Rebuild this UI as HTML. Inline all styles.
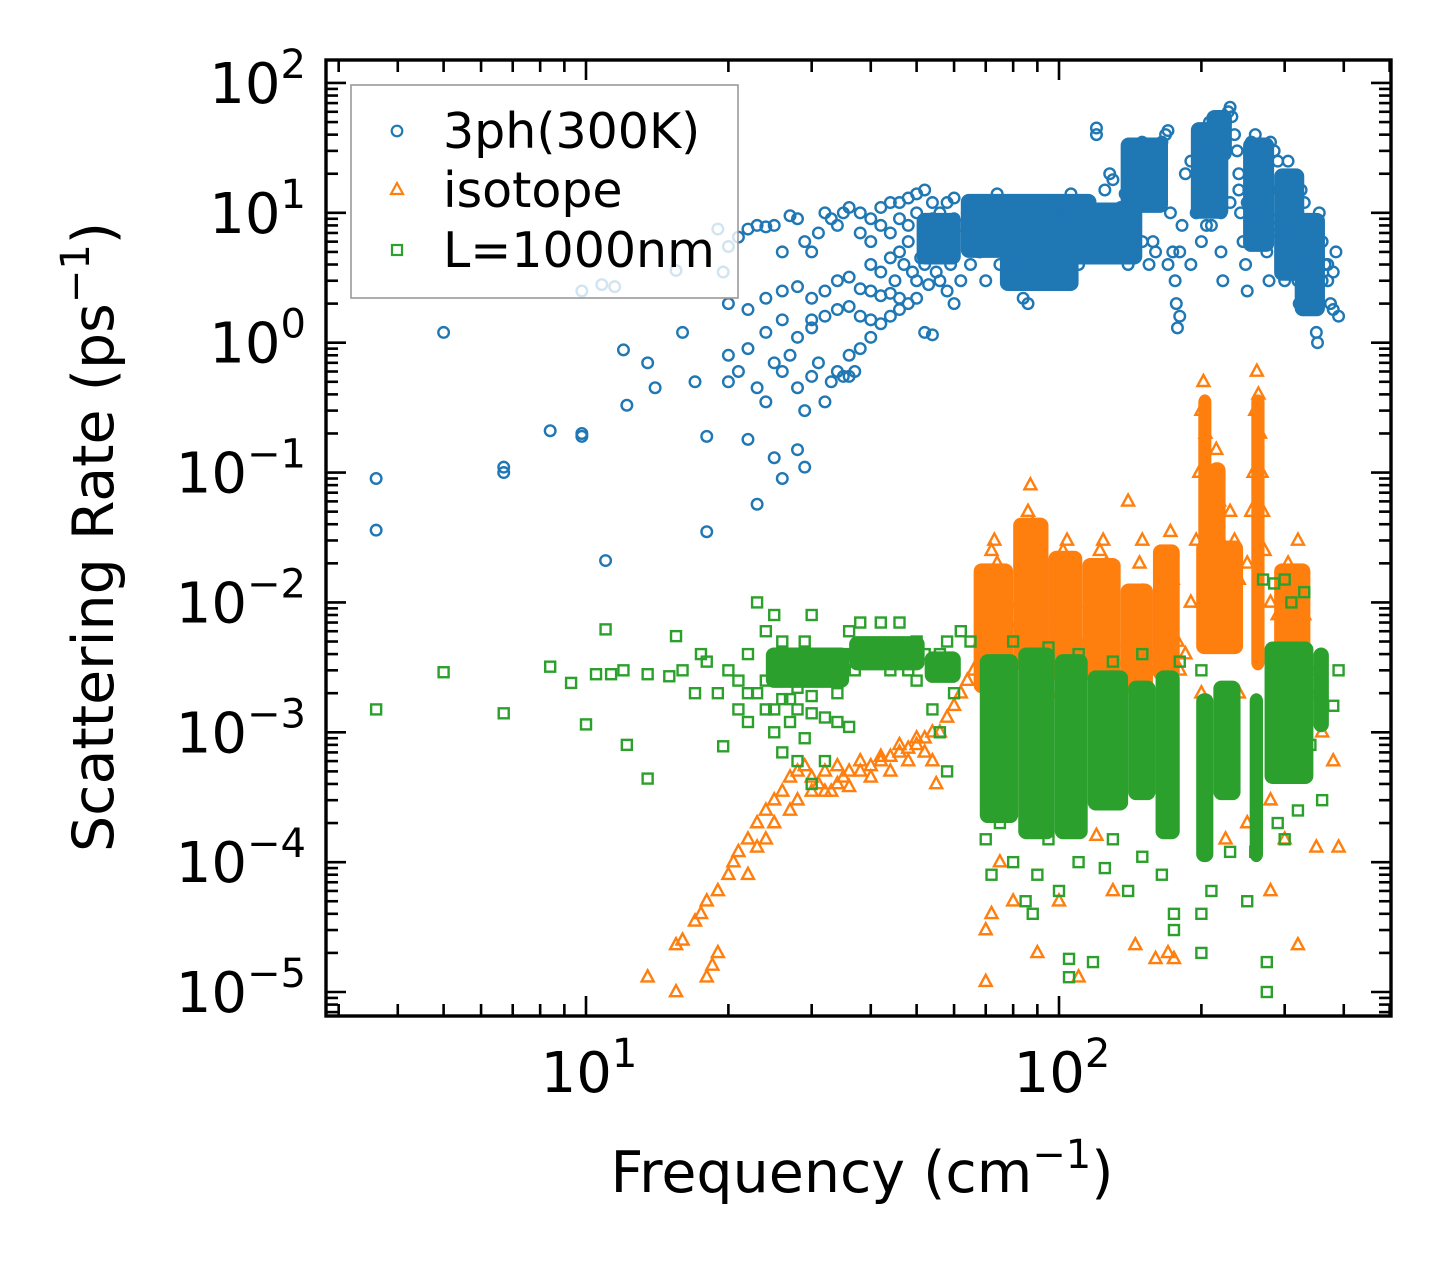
<!DOCTYPE html>
<html><head><meta charset="utf-8"><style>
html,body{margin:0;padding:0;background:#fff;}
svg{display:block;font-family:"DejaVu Sans","Liberation Sans",sans-serif;}
</style></head><body>
<svg id="chart" width="1455" height="1266" viewBox="0 0 1455 1266" xmlns="http://www.w3.org/2000/svg">
<rect x="0" y="0" width="1455" height="1266" fill="#fff"/>
<g id="plot"></g>
<g id="axes"></g>
</svg>
<script>
// ---- data (frequency cm^-1, rate ps^-1) ----
const xTickValues = [10, 100];
const xTickExps = ["1", "2"];
const yTickValues = [100, 10, 1, 0.1, 0.01, 0.001, 0.0001, 0.00001];
const yTickExps = ["2", "1", "0", "−1", "−2", "−3", "−4", "−5"];
const seriesNames = ["3ph(300K)", "isotope", "L=1000nm"];

// dense regions read as envelopes: [fLo, fHi, rLo, rHi]
const threePhBands = [[190,228,9,50],[205,232,25,62],[245,285,5,38],[285,330,3,22],[315,365,1.6,10],[62,120,4.5,14],[135,170,10,38],[95,150,4,12],[50,62,4,10],[75,110,2.5,5]];
const isotopeBands = [[66,80,2e-3,0.02],[80,95,3e-3,0.045],[95,112,2.5e-3,0.025],[112,135,2.5e-3,0.022],[135,158,2e-3,0.014],[158,180,2.5e-3,0.028],[195,245,4e-3,0.03],[197,210,0.02,0.4],[207,225,0.02,0.12],[255,272,3e-3,0.4],[285,340,1.5e-3,0.02]];
const lengthBands = [[68,82,2e-4,4e-3],[82,98,1.5e-4,4.5e-3],[98,115,1.5e-4,4e-3],[115,140,2.5e-4,3e-3],[140,160,3e-4,2.5e-3],[160,180,1.5e-4,3e-3],[195,212,1e-4,2e-3],[212,242,3e-4,2.5e-3],[253,270,1e-4,2e-3],[272,345,4e-4,5e-3],[345,372,1e-3,4.5e-3],[24,36,2.2e-3,4.5e-3],[36,52,3e-3,5.5e-3],[52,62,2.4e-3,4.2e-3]];

const threePh = [[3.6,0.09],[3.6,0.036],[5,1.2],[6.7,0.11],[6.7,0.1],[8.4,0.21],[9.8,0.2],[9.8,0.19],[9.8,2.5],[10.8,2.8],[11.5,2.7],[11,0.021],[12,0.88],[12.2,0.33],[13.5,0.7],[14,0.45],[15.5,3.6],[16,1.2],[17,0.5],[18,0.19],[18,0.035],[19,7.5],[19.5,3.5],[20,0.8],[22,0.18],[23,0.057],[25,0.13],[26,0.09],[28,0.15],[29,0.11],
[20,0.5],[21,0.6],[22,0.9],[23,0.45],[24,0.35],[24,1.2],[25,0.7],[26,0.6],[26,1.5],[27,0.8],[28,0.45],[28,1.1],[29,0.3],[30,0.55],[30,1.3],[31,0.7],[32,0.35],[33,0.5],[34,0.6],[35,0.55],[36,0.8],[38,0.9],[40,1.1],[42,1.4],[44,1.6],[46,1.8],[48,2],[50,2.2],[52,1.2],[54,1.15],[36,0.55],[37,0.6],
[20,2],[22,1.8],[24,2.2],[26,2.5],[28,2.7],[30,2.2],[32,2.5],[34,3],[36,3.2],[38,2.6],[40,2.5],[42,2.3],[44,2.4],[46,2.2],[30,1.5],[32,1.6],[34,1.8],[36,1.9],[38,1.6],[40,1.5],
[20,5.5],[21,6.5],[22,7.5],[23,8],[24,7.8],[25,8],[26,5],[27,9.5],[28,9],[29,6],[30,5],[31,7],[32,10],[33,9],[34,8],[35,10],[36,11],[38,10],[40,9],[42,11],[44,12],[46,12],[48,13],[50,14],[52,15],[54,9],[56,10],[58,12],[60,13],[62,8],[64,10],[66,6],[68,5],[70,7],[72,10],[74,14],[76,9],[78,6],[80,4],[82,3],[84,2.2],[86,2],[88,5],[90,8],[92,11],[95,6],[98,10],[100,12],[102,9],[104,10],[106,14],[108,11],[110,6],[112,4.5],[115,7],[118,9],[120,45],[120,40],[122,10],[125,15],[128,20],[130,18],[132,7],[135,11],[138,14],[140,8],[142,20],[145,25],[148,30],[150,35],[152,12],[155,4],[158,6],[160,15],[162,30],[165,35],[168,40],[170,43],[172,10],[174,5],[176,3],[177,2],[178,1.3],[180,1.6],[182,8],[185,20],[190,25],[195,10],[198,42],[200,30],[202,15],[205,8],[208,50],[210,45],[212,35],[215,25],[218,20],[220,5],[222,3],[225,50],[228,60],[230,65],[232,55],[235,40],[238,30],[240,20],[242,10],[245,6],[248,4],[250,2.5],[252,15],[255,35],[258,25],[260,40],[262,30],[265,20],[268,15],[270,10],[272,8],[275,5],[278,3],[280,35],[285,30],[290,25],[292,15],[295,10],[298,6],[300,3],[305,25],[308,18],[310,12],[315,8],[318,5],[320,3],[322,2],[325,15],[330,12],[335,6],[340,4],[345,2],[350,1.2],[352,1],[355,10],[360,6],[365,4],[370,3],[375,2],[380,1.8],[385,5],[390,1.6],
[40,4],[42,3.5],[44,4.5],[46,5],[48,6],[50,3],[52,4],[54,5.5],[56,3],[58,2.5],[60,2],[62,3],[65,4],[70,3],[75,4],[80,5],[85,4],[90,3],[95,4],[100,5],[110,4],[120,6],[130,5],[140,4],[150,6],[160,5],[170,4],[180,5],[190,4],[200,6],[210,8],[220,10],[230,12],[240,15],[250,12],[260,10],[270,8],[280,7],[290,9],[300,7],[310,6],[320,5],[330,4],[340,3],[350,2.5],[360,3],[370,4],[380,3.5],
[38,7],[40,6],[42,8],[44,7],[46,9],[48,8],[50,10],[52,7],[54,12],[56,8],[58,7],[60,9],[45,3],[47,4],[49,3.5],[51,4.5],[53,2.8],[55,3.5],[57,5],[59,4]];

const isotope = [[13.5,1.3e-5],[15.5,1e-5],[15.5,2.3e-5],[16,2.5e-5],[17,3.5e-5],[17.5,4e-5],[18,5e-5],[18,1.3e-5],[18.5,1.6e-5],[19,6e-5],[19,2e-5],[20,8e-5],[20.5,1e-4],[21,1.2e-4],[22,1.5e-4],[22,8e-5],[23,2e-4],[23,1.3e-4],[24,2.5e-4],[24,1.5e-4],[25,3e-4],[25,2e-4],[26,3.5e-4],[27,4.5e-4],[27,2.5e-4],[28,5e-4],[28,3e-4],[29,5.5e-4],[30,4.5e-4],[30,3.5e-4],[31,4e-4],[32,5e-4],[33,3.5e-4],[34,4e-4],[35,4.5e-4],[36,5e-4],[38,5e-4],[40,5.5e-4],[42,6e-4],[44,6.5e-4],[46,7e-4],[48,7.5e-4],[50,8e-4],[52,9e-4],[54,6e-4],[55,4e-4],[56,1e-3],[58,1.3e-3],[60,1.6e-3],[62,2e-3],[64,2.5e-3],[66,3e-3],[68,5e-3],[70,8e-3],[71,0.015],[72,0.025],[73,0.03],[74,0.02],[75,0.01],[76,0.006],[78,0.004],[80,0.006],[82,0.01],[84,0.02],[86,0.05],[87,0.08],[88,0.04],[89,0.02],[90,0.01],[92,0.006],[95,0.004],[98,0.008],[100,0.015],[102,0.025],[104,0.03],[106,0.02],[108,0.01],[110,0.005],[115,0.004],[118,0.008],[120,0.015],[122,0.025],[124,0.03],[126,0.02],[128,0.01],[130,0.004],[135,0.003],[140,0.005],[145,0.01],[148,0.02],[150,0.012],[155,0.004],[160,0.003],[165,0.008],[170,0.02],[172,0.035],[174,0.015],[178,0.005],[185,0.004],[190,0.01],[195,0.03],[198,0.1],[200,0.3],[202,0.5],[204,0.2],[206,0.1],[208,0.06],[210,0.04],[212,0.08],[215,0.15],[218,0.06],[220,0.03],[225,0.02],[230,0.05],[235,0.03],[240,0.015],[250,0.02],[255,0.05],[258,0.1],[260,0.3],[262,0.6],[264,0.4],[266,0.2],[268,0.1],[270,0.05],[272,0.025],[280,0.01],[290,0.008],[300,0.015],[305,0.02],[310,0.01],[315,0.005],[320,0.03],[325,0.015],[330,0.008],[340,0.003],[350,0.002],[360,0.001],[380,6e-4],[390,1.3e-4],
[34,5.5e-4],[38,6e-4],[42,6.5e-4],[46,8e-4],[50,9e-4],[54,1e-3],[32,3.5e-4],[36,3.8e-4],[40,4.5e-4],[44,5e-4],[48,6e-4],[52,7e-4],
[70,1.2e-5],[70,3e-5],[72,4e-5],[75,1e-4],[80,5e-5],[90,2e-5],[100,5e-5],[110,1.3e-5],[120,1.6e-4],[130,6e-5],[140,0.06],[145,2.3e-5],[150,0.03],[160,1.8e-5],[170,2e-5],[175,1.8e-5],[200,0.01],[210,0.05],[225,1.5e-4],[250,2e-4],[280,6e-5],[300,1.5e-4],[320,2.3e-5],[350,1.3e-4],[280,3e-4],[290,0.003],[300,0.008],[240,0.002],[200,0.002],[180,0.003],[150,0.002],[120,0.002],[100,0.002]];

const lengthSeries = [[3.6,1.5e-3],[5,2.9e-3],[6.7,1.4e-3],[8.4,3.2e-3],[9.3,2.4e-3],[10,1.15e-3],[10.5,2.8e-3],[11,6.2e-3],[11.3,2.8e-3],[12,3e-3],[12.2,8e-4],[13.5,2.8e-3],[13.5,4.4e-4],[15,2.7e-3],[15.5,5.5e-3],[16,3e-3],[17,2e-3],[17.5,4e-3],[18,3.5e-3],[19,2e-3],[19.5,7.8e-4],[20,3e-3],[21,1.5e-3],[21,2.5e-3],[22,1.2e-3],[22,4e-3],[23,1e-2],[23,2e-3],[24,6e-3],[24,1.5e-3],[25,8e-3],[25,1e-3],[26,5e-3],[26,7e-4],[27,4e-3],[27,1.2e-3],[28,3e-3],[28,6e-4],[29,5e-3],[29,9e-4],[30,8e-3],[30,4e-4],[31,3e-3],[32,2.5e-3],[32,6e-4],[33,3.5e-3],[34,2e-3],[35,4e-3],[36,6e-3],[37,3e-3],[38,7e-3],[40,3.5e-3],[42,7e-3],[44,3e-3],[46,7e-3],[48,3e-3],[50,5e-3],[50,2.5e-3],[52,4e-3],[54,3e-3],[54,1.5e-3],[56,4e-3],[56,1e-3],[58,5e-3],[58,5e-4],[60,3e-3],[60,2e-3],
[22,2e-3],[24,2.5e-3],[26,1.8e-3],[28,1.5e-3],[30,1.4e-3],[32,1.3e-3],[34,1.2e-3],[36,1.1e-3],[28,2.2e-3],[30,1.9e-3],[25,1.5e-3],[27,1.8e-3],
[70,1.5e-4],[72,8e-5],[75,2e-4],[80,1e-4],[85,5e-5],[88,4e-5],[90,8e-5],[95,1.5e-4],[100,6e-5],[105,1.8e-5],[105,1.3e-5],[110,1e-4],[118,1.7e-5],[125,9e-5],[130,1.5e-4],[140,6e-5],[150,1.1e-4],[165,8e-5],[175,3e-5],[175,4e-5],[200,2e-5],[200,4e-5],[210,6e-5],[230,1.2e-4],[250,5e-5],[260,1.2e-4],[275,1.7e-5],[275,1e-5],[290,2e-4],[300,1.5e-4],[320,2.5e-4],[340,8e-4],[360,3e-4],[380,1.6e-3],[270,1.5e-2],[285,1.4e-2],[300,1.5e-2],[310,0.01],[330,0.012],[390,3e-3],[200,3e-3],[180,3.5e-3],[150,4e-3],[130,3.5e-3],[110,4e-3],[95,4.5e-3],[80,5e-3],[65,5e-3],[62,6e-3]];

// ---- scales ----
const X0 = 326, X1 = 1391, Y0 = 60, Y1 = 1016;
const xPerDec = 473, xRef = 586;
const yPerDec = 129.86, yRef = 342.7;
function xs(f){ return xRef + (Math.log10(f) - 1) * xPerDec; }
function ys(r){ return yRef - Math.log10(r) * yPerDec; }

const NS = "http://www.w3.org/2000/svg";
const plot = document.getElementById('plot');
const axes = document.getElementById('axes');
function mk(tag, attrs, parent){ const e = document.createElementNS(NS, tag); for (const k in attrs) e.setAttribute(k, attrs[k]); parent.appendChild(e); return e; }

const C_BLUE = "#1f77b4", C_OR = "#ff7f0e", C_GR = "#2ca02c";

const clip = mk('clipPath', {id:'pc'}, plot);
mk('rect', {x:X0, y:Y0, width:X1-X0, height:Y1-Y0}, clip);
const inner = mk('g', {'clip-path':'url(#pc)'}, plot);



function drawBands(bands, color, name){
  bands.forEach(b => {
    const x1 = xs(b[0]), x2 = xs(b[1]), yT = ys(b[3]), yB = ys(b[2]);
    const r = mk('rect', {x:x1, y:yT, width:x2-x1, height:yB-yT, rx:8, fill:color}, inner);
    
    
  });
}
function circle(f, v, parent){
  const c = mk('circle', {cx:xs(f), cy:ys(v), r:5.3, fill:'none', stroke:C_BLUE, 'stroke-width':2.4}, parent);
  
  
}
function tri(f, v, parent){
  const x = xs(f), y = ys(v), s = 6;
  const p = mk('polygon', {points:`${x},${y-s*1.15} ${x-s},${y+s*0.7} ${x+s},${y+s*0.7}`, fill:'none', stroke:C_OR, 'stroke-width':2.4}, parent);
  
  
}
function sq(f, v, parent){
  const x = xs(f), y = ys(v);
  const s = mk('rect', {x:x-5, y:y-5, width:10, height:10, fill:'none', stroke:C_GR, 'stroke-width':2.4}, parent);
  
  
}

drawBands(threePhBands, C_BLUE, 'dense-3ph-region');
threePh.forEach(p => circle(p[0], p[1], inner));
drawBands(isotopeBands, C_OR, 'dense-isotope-region');
isotope.forEach(p => tri(p[0], p[1], inner));
drawBands(lengthBands, C_GR, 'dense-boundary-region');
lengthSeries.forEach(p => sq(p[0], p[1], inner));

// ---- ticks ----
const majL = 20, minL = 12, tw = 2.6;
function tick(x1,y1,x2,y2,name){ const l = mk('line',{x1,y1,x2,y2,stroke:'#000','stroke-width':tw},axes);   }
for (let d = 0; d <= 3; d++){
  for (let m = 1; m <= 9; m++){
    const f = m * Math.pow(10, d);
    const x = xs(f);
    if (x < X0 || x > X1) continue;
    const L = m === 1 ? majL : minL;
    tick(x, Y1, x, Y1-L, 'x-tick');
    tick(x, Y0, x, Y0+L, 'x-tick-top');
  }
}
for (let d = -6; d <= 2; d++){
  for (let m = 1; m <= 9; m++){
    const v = m * Math.pow(10, d);
    const y = ys(v);
    if (y < Y0 || y > Y1) continue;
    const L = m === 1 ? majL : minL;
    tick(X0, y, X0+L, y, 'y-tick');
    tick(X1, y, X1-L, y, 'y-tick-right');
  }
}
const frame = mk('rect', {x:X0, y:Y0, width:X1-X0, height:Y1-Y0, fill:'none', stroke:'#000', 'stroke-width':3.4}, axes);



function powLabel(x, y, exp, anchor, name){
  const t = mk('text', {x, y, 'font-size':56, 'text-anchor':anchor, fill:'#000'}, axes);
  
  
  t.appendChild(document.createTextNode('10'));
  const s = mk('tspan', {dy:-25, 'font-size':40}, t);
  s.textContent = exp;
}
xTickValues.forEach((v,i) => powLabel(xs(v)+3, 1092, xTickExps[i], 'middle', 'x-tick-label'));
yTickValues.forEach((v,i) => powLabel(306, ys(v)+20, yTickExps[i], 'end', 'y-tick-label'));

const xt = mk('text', {x:862, y:1192, 'font-size':57, 'text-anchor':'middle', fill:'#000'}, axes);


xt.appendChild(document.createTextNode('Frequency (cm'));
mk('tspan', {dy:-24, 'font-size':40}, xt).textContent = '−1';
mk('tspan', {dy:24}, xt).textContent = ')';

const yt = mk('text', {x:0, y:0, 'font-size':57, 'text-anchor':'middle', fill:'#000', transform:'translate(113,537) rotate(-90)'}, axes);


yt.appendChild(document.createTextNode('Scattering Rate (ps'));
mk('tspan', {dy:-24, 'font-size':40}, yt).textContent = '−1';
mk('tspan', {dy:24}, yt).textContent = ')';

const lg = mk('g', {}, axes);


mk('rect', {x:351, y:85, width:387, height:213, fill:'#fff', 'fill-opacity':0.8, stroke:'#999', 'stroke-width':1.6}, lg);
const lys = [131, 190, 250];
seriesNames.forEach((n,i) => {
  const ent = mk('g', {}, lg);
  
  
  const x = 397, y = lys[i];
  if (i === 0) mk('circle', {cx:x, cy:y, r:5.3, fill:'none', stroke:C_BLUE, 'stroke-width':2.2}, ent);
  if (i === 1) mk('polygon', {points:`${x},${y-7} ${x-6},${y+4} ${x+6},${y+4}`, fill:'none', stroke:C_OR, 'stroke-width':2.2}, ent);
  if (i === 2) mk('rect', {x:x-5, y:y-5, width:10, height:10, fill:'none', stroke:C_GR, 'stroke-width':2.2}, ent);
  const t = mk('text', {x:443, y:y+17, 'font-size':49, fill:'#000'}, ent);
  t.textContent = n;
});
</script>
</body></html>
